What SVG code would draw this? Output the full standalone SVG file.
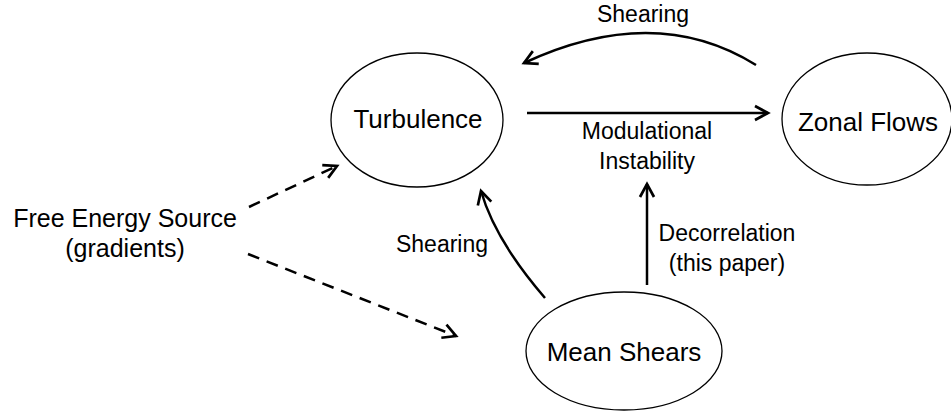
<svg xmlns="http://www.w3.org/2000/svg" width="951" height="414" viewBox="0 0 951 414">
<defs>
<style>
.node{fill:#fff;stroke:#000;stroke-width:1.3}
.big{font-family:"Liberation Sans",Arial,sans-serif;font-size:26px;fill:#000;text-anchor:middle}
.src{font-family:"Liberation Sans",Arial,sans-serif;font-size:25px;fill:#000;text-anchor:middle}
.lbl{font-family:"Liberation Sans",Arial,sans-serif;font-size:23px;fill:#000;text-anchor:middle}
.conn{fill:none;stroke:#000;stroke-width:2.5}
.dash{stroke-dasharray:12 8}
</style>
<marker id="arr" markerUnits="userSpaceOnUse" markerWidth="20" markerHeight="20" viewBox="-14 -10 20 20" refX="0" refY="0" orient="auto">
<path d="M-13,-7 L0,0 L-13,7" fill="none" stroke="#000" stroke-width="2.7"/>
</marker>
</defs>
<rect width="951" height="414" fill="#fff"/>
<g id="connectors">
<path class="conn" d="M756,65 Q655,2 524,63" marker-end="url(#arr)"/>
<path class="conn" d="M527,113 L768,113" marker-end="url(#arr)"/>
<path class="conn" d="M647,285 L647,184" marker-end="url(#arr)"/>
<path class="conn" d="M545,298 Q495,240 481,191" marker-end="url(#arr)"/>
<path class="conn dash" d="M249,207 L337,166" marker-end="url(#arr)"/>
<path class="conn dash" d="M248,254 L456,336" marker-end="url(#arr)"/>
</g>
<g id="turbulence">
<ellipse class="node" cx="417" cy="120" rx="86" ry="67"/>
<text class="big" x="418" y="128">Turbulence</text>
</g>
<g id="zonal-flows">
<ellipse class="node" cx="867" cy="119" rx="85" ry="66"/>
<text class="big" x="868" y="131">Zonal Flows</text>
</g>
<g id="mean-shears">
<ellipse class="node" cx="624" cy="351" rx="98" ry="59"/>
<text class="big" x="624" y="361">Mean Shears</text>
</g>
<g id="free-energy-source">
<text class="src" x="125" y="227">Free Energy Source</text>
<text class="src" x="125" y="257">(gradients)</text>
</g>
<g id="labels">
<text class="lbl" x="643" y="22">Shearing</text>
<text class="lbl" x="647" y="139">Modulational</text>
<text class="lbl" x="647" y="169">Instability</text>
<text class="lbl" x="442" y="252">Shearing</text>
<text class="lbl" x="727" y="241">Decorrelation</text>
<text class="lbl" x="727" y="271">(this paper)</text>
</g>
</svg>
